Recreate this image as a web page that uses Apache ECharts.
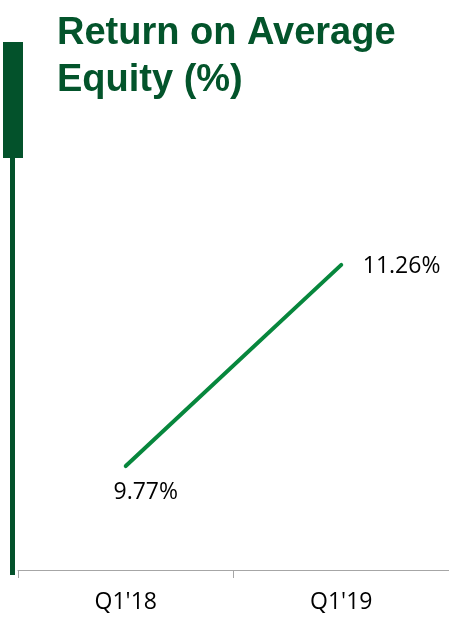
<!DOCTYPE html>
<html>
<head>
<meta charset="utf-8">
<script src="https://cdn.jsdelivr.net/npm/echarts@6/dist/echarts.min.js"></script>
<style>html,body{margin:0;padding:0;background:#fff;}#c{width:449px;height:620px;}</style>
</head>
<body>
<div id="c"></div>
<script>
const categories = ["Q1'18", "Q1'19"];
const roaeValues = [9.77, 11.26];
const titleText = 'Return on Average\nEquity (%)';

const labelStyles = [
  { position: 'bottom', distance: 5, offset: [20, 9] },
  { position: 'right', distance: 21, offset: [0, 2] }
];

const chart = echarts.init(document.getElementById('c'));
chart.setOption({
  animation: false,
  backgroundColor: '#ffffff',
  title: {
    text: titleText,
    left: 52,
    top: 5,
    textStyle: { fontFamily: 'Liberation Sans, Arial, sans-serif', fontWeight: 'bold', fontSize: 38, lineHeight: 47, color: '#03542b' }
  },
  graphic: [
    { type: 'rect', shape: { x: 3, y: 42, width: 20, height: 116 }, style: { fill: '#03522b' }, z: 10 },
    { type: 'rect', shape: { x: 10, y: 158, width: 5, height: 417 }, style: { fill: '#03522b' }, z: 10 }
  ],
  grid: { left: 18, top: 165, width: 440, bottom: 50, containLabel: false },
  xAxis: {
    type: 'category',
    data: categories,
    boundaryGap: true,
    axisLine: { lineStyle: { color: '#a6a6a6', width: 1 } },
    axisTick: { show: true, length: 8, lineStyle: { color: '#a6a6a6' } },
    axisLabel: { color: '#000', fontFamily: 'Open Sans, sans-serif', fontSize: 23, margin: 21 }
  },
  yAxis: { type: 'value', min: 9, max: 12, show: false, splitLine: { show: false } },
  series: [{
    type: 'line',
    data: roaeValues.map((v, i) => ({
      value: v,
      label: Object.assign({ show: true, color: '#000', fontFamily: 'Open Sans, sans-serif', fontSize: 23, formatter: p => p.value.toFixed(2) + '%' }, labelStyles[i])
    })),
    symbol: 'circle',
    symbolSize: 1,
    itemStyle: { color: 'rgba(0,0,0,0)' },
    lineStyle: { color: '#07873d', width: 4, cap: 'round' }
  }]
});
</script>
</body>
</html>
